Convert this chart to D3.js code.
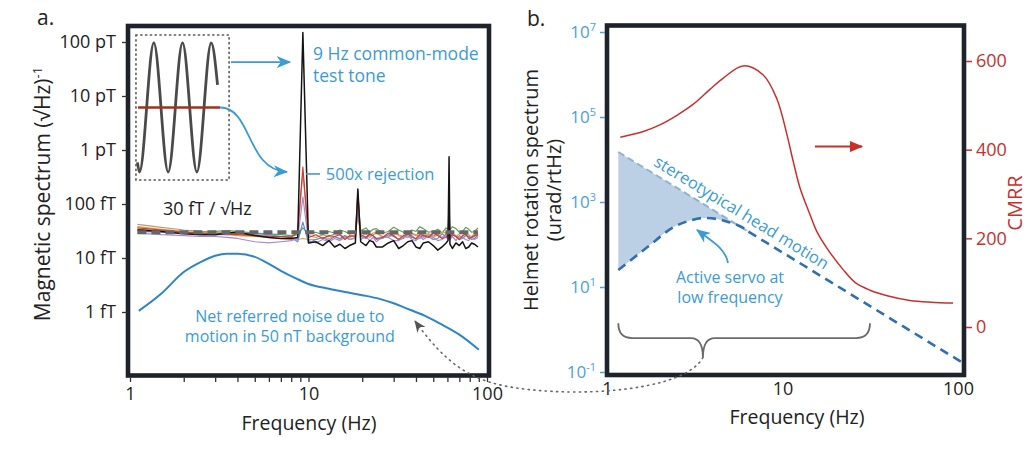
<!DOCTYPE html>
<html><head><meta charset="utf-8">
<script src="https://cdn.jsdelivr.net/npm/d3@7/dist/d3.min.js"></script>
<style>
html,body{margin:0;padding:0;background:#fff;}
svg{display:block;font-family:"Open Sans",sans-serif;}
</style></head><body>
<svg id="chart" width="1028" height="456"></svg>
<script>
// ================= Panel a data =================
const freqA = [1.1,1.5,2,2.5,3,3.5,4,5,6,7,8,8.7,9.3,10,11,12,13,14,15,16,17,18.3,18.9,19.6,21,22,23,24,26,28,30,32,34,36,38,40,42,44,47,50,53,56,59,60.5,61.3,62,64,67,70,73,76,79,82,85,89];
const traceBlack  = [33,31,28,27,27,29,30,26,24,23,23,24,150000,19,20,17,21,16,18,15,17,19,190,20,17,21,20,16,16,19,21,15,17,20,21,16,15,19,20,17,14,16,19,21,750,18,15,19,17,20,15,16,19,18,16];
const traceRed    = [36,33,30,29,28,28,27,26,25,25,24,30,480,24,27,23,26,25,27,22,26,25,150,27,24,28,26,23,24,29,26,22,26,28,24,23,27,26,24,29,26,23,24,27,90,24,27,25,22,26,28,23,24,26,27];
const traceOrange = [38,34,31,29,28,27,26,25,24,23,22,22,23,22,22,24,23,25,22,26,24,27,60,28,31,26,29,30,24,25,30,26,24,29,28,26,31,25,28,24,27,30,29,25,40,26,29,25,28,30,27,25,25,28,26];
const traceGreen  = [34,32,30,30,31,32,31,29,28,27,26,27,36,28,30,27,31,29,33,31,28,30,70,32,36,30,34,35,29,31,37,33,30,29,33,31,38,35,30,31,34,29,36,33,50,33,38,35,30,31,37,34,30,31,36];
const tracePurple = [29,27,26,25,25,24,23,20,19,20,21,23,135,21,19,22,20,23,21,24,22,23,110,22,25,21,24,20,25,24,21,21,24,26,22,21,25,22,26,24,21,22,27,23,70,22,25,21,26,24,22,21,25,22,24];
const traceBlue   = [31,30,29,28,27,27,28,29,27,25,24,20,46,19,22,24,21,25,23,26,22,24,90,25,23,27,26,22,23,27,25,22,23,28,26,22,23,27,25,22,23,28,25,22,60,23,27,25,22,23,26,25,22,23,26];
const traceTan    = [42,37,33,31,30,29,28,27,26,25,25,30,380,26,24,27,25,28,27,24,25,26,170,25,28,24,27,29,25,24,28,27,25,24,29,27,25,24,28,26,27,24,28,26,120,25,28,26,24,25,28,27,24,25,27];

const netFreq  = [1.12,1.5,2,2.5,3,3.5,4,5,6,7,8.5,10,13,16,20,25,30,37,45,55,70,90];
const netNoise = [1.05,2.2,5.5,8.5,11,12,12,10.5,7.8,5.8,4.2,3.3,2.7,2.35,2.05,1.75,1.45,1.1,0.85,0.6,0.38,0.2];

const floorLevel = 30;            // fT / sqrt(Hz)
const floorFreq  = [1.1, 89];

const yTicksA  = [1,10,100,1000,1e4,1e5];
const yLabelsA = ["1 fT","10 fT","100 fT","1 pT","10 pT","100 pT"];
const xMajor   = [1,10,100];
const xMinorA  = [2,3,4,5,6,7,8,9,20,30,40,50,60,70,80,90];

// inset illustration (cycles, normalised amplitude)
const insetCycles = [-0.07,0,0.5,1,1.5,2,2.5,2.72];
const insetAmp    = [-0.85,-1,1,-1,1,-1,1,0.35];
const insetRedCycles = [-0.05, 2.81];

// ================= Panel b data =================
const stereoFreq = [1.16, 105];
const stereoVal  = [15000, 0.17];
const servoFreq  = [1.16,1.7,2.4,3.0,3.55,4.2,4.9,5.6,6.4];
const servoVal   = [25,87,257,370,420,400,340,280,210];
const cmrrFreq   = [1.19,1.61,2.0,2.49,3.09,3.86,4.58,5.96,7.74,9.28,10.6,11.5,12.6,14.3,15.7,17.9,22.1,26,31.5,40,53.2,70,93.7];
const cmrrVal    = [428,441,456,477,502,536,561,589,569,515,434,374,313,255,215,178,130,100,83,70,60,56,54];
const yTicksB    = [0.1,10,1e3,1e5,1e7];
const yExpB      = ["-1","1","3","5","7"];
const cmrrTicks  = [0,200,400,600];

// ================= styling =================
const FRAME = "#1e232b", DARK = "#222", BLUE_T = "#3b9bd6", BLUE_C = "#2a86c7",
      BLUE_AX = "#4aa2d8", RED = "#c9302c";

const svg = d3.select("#chart");
const defs = svg.append("defs");
function marker(id, color, w, h, notched){
  defs.append("marker").attr("id", id).attr("viewBox","0 0 12 10")
    .attr("refX", 11).attr("refY", 5).attr("markerUnits","userSpaceOnUse")
    .attr("markerWidth", w).attr("markerHeight", h).attr("orient","auto")
    .append("path").attr("d", notched ? "M0,0 L12,5 L0,10 L3.5,5 Z" : "M0,0 L12,5 L0,10 Z")
    .attr("fill", color);
}
marker("mBlue", BLUE_T, 15, 12, true);
marker("mRed", RED, 16, 11, false);
marker("mGray", "#555", 12, 11, true);

// ================= scales =================
const xA = d3.scaleLog().domain([1,100]).range([130,487]);
const yA = d3.scaleLog().domain([1,1e5]).range([312,42]);
const xB = d3.scaleLog().domain([1,100]).range([607,958]);
const yB = d3.scaleLog().domain([0.1,1e7]).range([372,32]);
const yR = d3.scaleLinear().domain([0,600]).range([327,61]);

// ================= Panel a =================
const gA = svg.append("g");
const traces = [
  {v: traceTan, c:"#b99a86"},
  {v: traceGreen, c:"#5aa552"},
  {v: traceOrange, c:"#f19a33"},
  {v: traceBlue, c:"#5a8fd8"},
  {v: tracePurple, c:"#a886d8"},
  {v: traceRed, c:"#d8392e"},
  {v: traceBlack, c:"#141414"}
];
const lineA = d3.line().x(d=>xA(d[0])).y(d=>yA(d[1]));
traces.forEach((t,i)=>{
  gA.append("path").datum(freqA.map((f,j)=>[f,t.v[j]]))
    .attr("d", lineA).attr("fill","none").attr("stroke", t.c)
    .attr("stroke-width", i===traces.length-1 ? 1.5 : 1.2).attr("stroke-linejoin","round");
});
gA.append("path").datum(floorFreq.map(f=>[f,floorLevel])).attr("d", lineA)
  .attr("fill","none").attr("stroke","#666").attr("stroke-width",4).attr("stroke-dasharray","9,5");
gA.append("path").datum(netFreq.map((f,j)=>[f,netNoise[j]]))
  .attr("d", d3.line().x(d=>xA(d[0])).y(d=>yA(d[1])).curve(d3.curveMonotoneX))
  .attr("fill","none").attr("stroke",BLUE_C).attr("stroke-width",2);

// inset
const insetBoxF = [1.08, 3.59], insetBoxV = [278, 1.35e5];
const ix0 = xA(insetBoxF[0]), ix1 = xA(insetBoxF[1]), iy0 = yA(insetBoxV[1]), iy1 = yA(insetBoxV[0]);
gA.append("rect").attr("x",ix0).attr("y",iy0).attr("width",ix1-ix0).attr("height",iy1-iy0)
  .attr("fill","none").attr("stroke","#555").attr("stroke-width",1.6)
  .attr("stroke-dasharray","1.2,3.6").attr("stroke-linecap","round");
const sx = d3.scaleLinear().domain([-0.122,3.122]).range([ix0,ix1]);
const sy = d3.scaleLinear().domain([-1.124,1.124]).range([iy1,iy0]);
gA.append("path").datum(insetCycles.map((c,j)=>[c,insetAmp[j]]))
  .attr("d", d3.line().x(d=>sx(d[0])).y(d=>sy(d[1])).curve(d3.curveMonotoneX))
  .attr("fill","none").attr("stroke","#4a4a4a").attr("stroke-width",2.8);
gA.append("line").attr("x1",sx(insetRedCycles[0])).attr("x2",sx(insetRedCycles[1]))
  .attr("y1",sy(0)).attr("y2",sy(0)).attr("stroke","#a3301b").attr("stroke-width",2.6);

// arrows panel a
gA.append("line").attr("x1",xA(3.68)).attr("x2",xA(7.86)).attr("y1",yA(4.24e4)).attr("y2",yA(4.24e4))
  .attr("stroke",BLUE_T).attr("stroke-width",1.8).attr("marker-end","url(#mBlue)");
{
  const p0=[sx(insetRedCycles[1]), sy(0)], p3=[xA(7.57), yA(392)];
  gA.append("path").attr("d",`M${p0[0]},${p0[1]} C${p0[0]+32},${p0[1]} ${p0[0]+26},${p3[1]-2} ${p3[0]},${p3[1]}`)
    .attr("fill","none").attr("stroke",BLUE_T).attr("stroke-width",1.8).attr("marker-end","url(#mBlue)");
}
gA.append("line").attr("x1",xA(9.67)).attr("x2",xA(11.6)).attr("y1",yA(360)).attr("y2",yA(360))
  .attr("stroke",BLUE_T).attr("stroke-width",1.6);

function txt(g,x,y,s,size,color,anchor){
  return g.append("text").attr("x",x).attr("y",y).attr("font-size",size+"px")
    .attr("fill",color).attr("text-anchor",anchor||"start").text(s);
}
txt(gA, xA(10.6), yA(4.64e4), "9 Hz common-mode", 17.5, BLUE_T);
txt(gA, xA(10.6), yA(4.64e4)+22, "test tone", 17.5, BLUE_T);
txt(gA, xA(12.5), yA(278), "500x rejection", 16.5, BLUE_T);
txt(gA, xA(1.53), yA(62.6), "30 fT / \u221AHz", 18, DARK);
txt(gA, xA(7.86), yA(0.65), "Net referred noise due to", 16, BLUE_T, "middle");
txt(gA, xA(7.86), yA(0.65)+20, "motion in 50 nT background", 16, BLUE_T, "middle");

gA.append("rect").attr("x",128).attr("y",26).attr("width",361).attr("height",349.5)
  .attr("fill","none").attr("stroke",FRAME).attr("stroke-width",4.6);

const axA_x = gA.append("g").attr("transform","translate(0,377)")
  .call(d3.axisBottom(xA).tickValues(xMajor.concat(xMinorA)).tickSize(5).tickPadding(5)
    .tickFormat(d=> xMajor.includes(d) ? String(d) : ""));
const axA_y = gA.append("g").attr("transform","translate(127,0)")
  .call(d3.axisLeft(yA).tickValues(yTicksA).tickSize(5).tickPadding(6)
    .tickFormat((d,i)=>yLabelsA[i]));
[axA_x, axA_y].forEach(g=>{
  g.select(".domain").remove();
  g.selectAll(".tick line").attr("stroke","#333").attr("stroke-width",1.3);
  g.selectAll(".tick text").attr("font-size","18px").attr("fill",DARK).attr("font-family","Open Sans");
});
txt(gA, 309, 430, "Frequency (Hz)", 19.5, DARK, "middle");
{
  const t = gA.append("text").attr("transform","translate(50,194) rotate(-90)")
    .attr("text-anchor","middle").attr("font-size","21px").attr("fill",DARK);
  t.append("tspan").text("Magnetic spectrum (\u221AHz)");
  t.append("tspan").attr("dy","-0.6em").attr("font-size","13px").text("-1");
}
txt(gA, 37, 25, "a.", 21, DARK);

// ================= Panel b =================
const gB = svg.append("g");
const sP0 = [xB(stereoFreq[0]), yB(stereoVal[0])], sP1 = [xB(stereoFreq[1]), yB(stereoVal[1])];
const stereoY = d3.scaleLinear().domain([sP0[0], sP1[0]]).range([sP0[1], sP1[1]]);
const servoPts = servoFreq.map((f,j)=>[f,servoVal[j]]);
gB.append("path").datum(servoPts)
  .attr("d", d3.area().x(d=>xB(d[0])).y0(d=>stereoY(xB(d[0]))).y1(d=>yB(d[1])).curve(d3.curveMonotoneX))
  .attr("fill","#bcd0e5");
const mergeX = xB(servoFreq[servoFreq.length-1]);
gB.append("line").attr("x1",sP0[0]).attr("y1",sP0[1]).attr("x2",mergeX).attr("y2",stereoY(mergeX))
  .attr("stroke","#8fb2d4").attr("stroke-width",2).attr("stroke-dasharray","7,4");
gB.append("path").datum(servoPts)
  .attr("d", d3.line().x(d=>xB(d[0])).y(d=>yB(d[1])).curve(d3.curveMonotoneX))
  .attr("fill","none").attr("stroke","#2f6fb2").attr("stroke-width",2.6).attr("stroke-dasharray","9,6");
gB.append("line").attr("x1",mergeX).attr("y1",stereoY(mergeX)).attr("x2",sP1[0]).attr("y2",sP1[1])
  .attr("stroke","#2f6fb2").attr("stroke-width",2.6).attr("stroke-dasharray","9,6");

gB.append("path").datum(cmrrFreq.map((f,j)=>[f,cmrrVal[j]]))
  .attr("d", d3.line().x(d=>xB(d[0])).y(d=>yR(d[1])).curve(d3.curveCatmullRom.alpha(0.5)))
  .attr("fill","none").attr("stroke",RED).attr("stroke-width",1.5);
gB.append("line").attr("x1",xB(15.3)).attr("x2",xB(28.4)).attr("y1",yR(407)).attr("y2",yR(407))
  .attr("stroke",RED).attr("stroke-width",2).attr("marker-end","url(#mRed)");

{
  const ang = Math.atan2(sP1[1]-sP0[1], sP1[0]-sP0[0]);
  const xs = xB(1.74), ys = stereoY(xs);
  const off = 7;
  const px = xs + Math.sin(ang)*off, py = ys - Math.cos(ang)*off;
  gB.append("text").attr("transform",`translate(${px},${py}) rotate(${ang*180/Math.PI})`)
    .attr("font-size","16.5px").attr("fill",BLUE_T).text("stereotypical head motion");
}
{
  txt(gB, xB(5.02), yB(12.4), "Active servo at", 16, BLUE_T, "middle");
  txt(gB, xB(5.02), yB(12.4)+20, "low frequency", 16, BLUE_T, "middle");
  const a0=[xB(4.89), yB(36.7)], a1=[xB(3.26), yB(219)];
  gB.append("path").attr("d",`M${a0[0]},${a0[1]} C${a0[0]-2},${a0[1]-14} ${a0[0]-16},${a0[1]-22} ${a1[0]},${a1[1]}`)
    .attr("fill","none").attr("stroke",BLUE_T).attr("stroke-width",1.8).attr("marker-end","url(#mBlue)");
}
{
  const L=[xB(1.16), yB(1.4)], R=[xB(31.5), yB(1.4)], m=xB(3.52), my=yB(0.63), ty=yB(0.22);
  const d = `M${L[0]},${L[1]} Q${L[0]},${my} ${L[0]+14},${my} H${m-12} Q${m},${my} ${m},${ty} Q${m},${my} ${m+12},${my} H${R[0]-14} Q${R[0]},${my} ${R[0]},${L[1]}`;
  gB.append("path").attr("d",d).attr("fill","none").attr("stroke","#6b6b6b").attr("stroke-width",1.8);
}

gB.append("rect").attr("x",607).attr("y",25.5).attr("width",357).attr("height",349.5)
  .attr("fill","none").attr("stroke",FRAME).attr("stroke-width",4.6);

const axB_x = gB.append("g").attr("transform","translate(0,375)")
  .call(d3.axisBottom(xB).tickValues(xMajor).tickSize(0).tickPadding(7).tickFormat(d=>String(d)));
axB_x.select(".domain").remove();
axB_x.selectAll(".tick text").attr("font-size","18px").attr("fill",DARK).attr("font-family","Open Sans");

const axB_y = gB.append("g").attr("transform","translate(605,0)")
  .call(d3.axisLeft(yB).tickValues(yTicksB).tickSize(5).tickPadding(4).tickFormat(()=>""));
axB_y.select(".domain").remove();
axB_y.selectAll(".tick line").attr("stroke",BLUE_AX).attr("stroke-width",1.5);
axB_y.selectAll(".tick text").attr("font-size","17px").attr("fill",BLUE_AX).attr("font-family","Open Sans")
  .each(function(d,i){
    const t = d3.select(this);
    t.append("tspan").text("10");
    t.append("tspan").attr("dy","-0.6em").attr("font-size","11px").text(yExpB[i]);
  });

const axB_r = gB.append("g").attr("transform","translate(966,0)")
  .call(d3.axisRight(yR).tickValues(cmrrTicks).tickSize(6).tickPadding(4).tickFormat(d=>String(d)));
axB_r.select(".domain").remove();
axB_r.selectAll(".tick line").attr("stroke",RED).attr("stroke-width",1.5);
axB_r.selectAll(".tick text").attr("font-size","18px").attr("fill",RED).attr("font-family","Open Sans");

txt(gB, 797, 424, "Frequency (Hz)", 19.5, DARK, "middle");
txt(gB, 0, 0, "Helmet rotation spectrum", 20, DARK, "middle").attr("transform","translate(538,190) rotate(-90)");
txt(gB, 0, 0, "(urad/rtHz)", 20, DARK, "middle").attr("transform","translate(561,190) rotate(-90)");
txt(gB, 0, 0, "CMRR", 20, RED, "middle").attr("transform","translate(1022,203) rotate(-90)");
txt(gB, 527, 26, "b.", 21, DARK);

{
  const A=[xB(3.52), yB(0.22)], Z=[xA(39.5), yA(0.68)];
  const M=[A[0]-150, A[1]+34];
  const d = `M${A[0]},${A[1]} C${A[0]-15},${A[1]+28} ${A[0]-90},${A[1]+37} ${M[0]},${M[1]} C${M[0]-70},${M[1]-4} ${Z[0]+40},${Z[1]+55} ${Z[0]},${Z[1]}`;
  svg.append("path").attr("d",d).attr("fill","none").attr("stroke","#666").attr("stroke-width",1.6)
    .attr("stroke-dasharray","1.2,4.5").attr("stroke-linecap","round").attr("marker-end","url(#mGray)");
}
</script>
</body></html>
